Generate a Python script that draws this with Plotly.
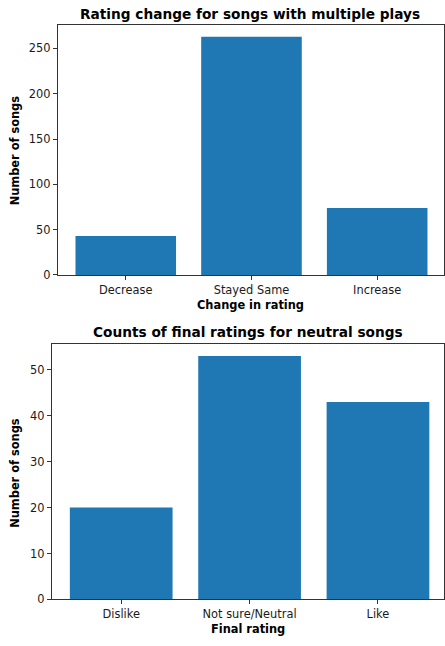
import plotly.graph_objects as go

W, H = 445, 646

change_categories = ["Decrease", "Stayed Same", "Increase"]
change_counts = [43, 263, 74]

final_categories = ["Dislike", "Not sure/Neutral", "Like"]
final_counts = [20, 53, 43]

top_ticks = [0, 50, 100, 150, 200, 250]
bottom_ticks = [0, 10, 20, 30, 40, 50]

BAR = "#1f77b4"
FONT = "DejaVu Sans"
TXT = "#1a1a1a"

def px_x(p):
    return p / W

def px_y(p):
    return 1 - p / H

fig = go.Figure()
fig.add_trace(go.Bar(x=change_categories, y=change_counts, marker=dict(color=BAR, line=dict(width=0)),
                     xaxis="x", yaxis="y", hoverinfo="x+y"))
fig.add_trace(go.Bar(x=final_categories, y=final_counts, marker=dict(color=BAR, line=dict(width=0)),
                     xaxis="x2", yaxis="y2", hoverinfo="x+y"))

axis_common = dict(showline=True, linecolor="#333", linewidth=1, mirror=True,
                   ticks="outside", ticklen=4, tickcolor="#333", showgrid=False, zeroline=False,
                   tickfont=dict(family=FONT, size=11.4, color=TXT))

top_span = (444.5 - 58) / 126.0
fig.update_layout(
    xaxis=dict(domain=[px_x(58), px_x(444.5)], anchor="y", type="category",
               range=[-0.54, -0.54 + top_span], **axis_common),
    yaxis=dict(domain=[px_y(278), px_y(25)], anchor="x", range=[0, max(change_counts) * 1.05],
               tickvals=top_ticks, **axis_common),
    xaxis2=dict(domain=[px_x(52), 1.0], anchor="y2", type="category",
                range=[-0.54, -0.54 + (W + 1 - 52) / 129.0], **axis_common),
    yaxis2=dict(domain=[px_y(606), px_y(347.7)], anchor="x2", range=[0, max(final_counts) * 1.05],
                tickvals=bottom_ticks, **axis_common),
)

annotations = [
    dict(text="<b>Rating change for songs with multiple plays</b>", x=px_x(251), y=px_y(14),
         font=dict(family=FONT, size=13.7, color="black")),
    dict(text="<b>Change in rating</b>", x=px_x(251), y=px_y(308),
         font=dict(family=FONT, size=11.4, color="black")),
    dict(text="<b>Number of songs</b>", x=px_x(15), y=px_y(152), textangle=-90,
         font=dict(family=FONT, size=11.4, color="black")),
    dict(text="<b>Counts of final ratings for neutral songs</b>", x=px_x(249), y=px_y(336),
         font=dict(family=FONT, size=13.7, color="black")),
    dict(text="<b>Final rating</b>", x=px_x(249), y=px_y(636),
         font=dict(family=FONT, size=11.4, color="black")),
    dict(text="<b>Number of songs</b>", x=px_x(15), y=px_y(478), textangle=-90,
         font=dict(family=FONT, size=11.4, color="black")),
]
for a in annotations:
    a.update(xref="paper", yref="paper", showarrow=False, xanchor="center", yanchor="middle")

fig.update_layout(
    width=W, height=H, margin=dict(l=0, r=0, t=0, b=0),
    paper_bgcolor="white", plot_bgcolor="white",
    showlegend=False, bargap=0.2,
    annotations=annotations,
    font=dict(family=FONT, color=TXT),
)

post = (
    "document.body.style.margin='0';"
    "document.body.style.overflow='hidden';"
)

fig.write_html("out.html", config={"displayModeBar": False}, post_script=post)
